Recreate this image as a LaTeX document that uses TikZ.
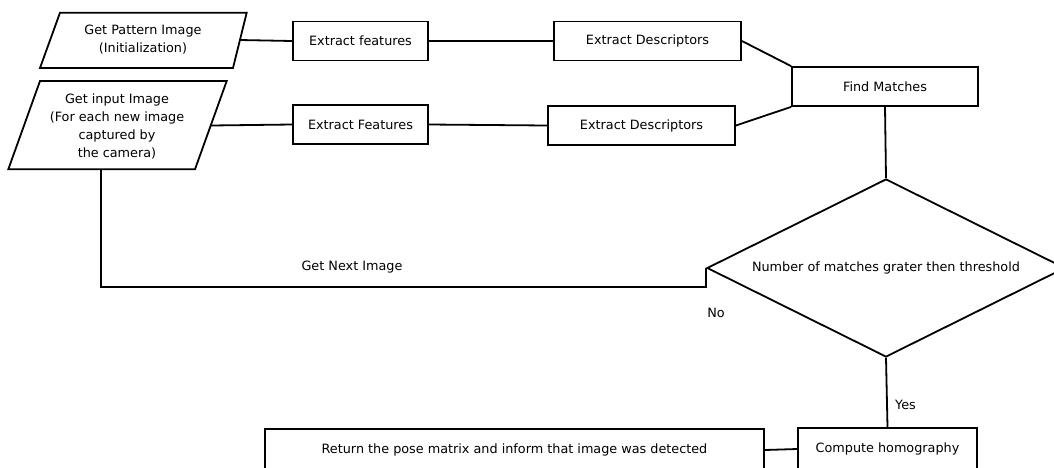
\documentclass[tikz,border=0pt]{standalone}
\usepackage{fontspec}
\setmainfont{DejaVu Sans}
\usetikzlibrary{shapes.geometric}
\begin{document}
\begin{tikzpicture}[x=1pt, y=-1pt, line width=1.8pt,
  txt/.style={font=\fontsize{12.8}{18}\selectfont, align=center, inner sep=0pt},
  box/.style={txt, draw, rectangle, minimum height=39pt},
  decision/.style={txt, draw, diamond, shape aspect=2, minimum width=358pt, minimum height=178pt},
  io/.style={line join=miter},
  link/.style={draw}]
\useasboundingbox (0,0) rectangle (1054,467);

% input parallelograms
\draw[io] (60,12.7) -- (246.7,12.7) -- (233,68) -- (40,68) -- cycle;
\node[txt] (pattern) at (143,40) {Get Pattern Image\\(Initialization)};
\coordinate (patternR) at (239.9,40);

\draw[io] (40,81) -- (226.7,81) -- (195,169.3) -- (8.3,169.3) -- cycle;
\node[txt] (input) at (117,126) {Get input Image\\(For each new image\\captured by\\the camera)};
\coordinate (inputR) at (210.7,125.5);
\coordinate (inputB) at (101,169.3);

% processing boxes
\node[box, minimum width=135pt] (feat1) at (360.5,41) {Extract features};
\node[box, minimum width=135pt] (feat2) at (360.5,124.5) {Extract Features};
\node[box, minimum width=187pt] (desc1) at (647.5,41) {Extract Descriptors};
\node[box, minimum width=187pt] (desc2) at (641.5,125.5) {Extract Descriptors};
\node[box, minimum width=186pt] (match) at (885,86.5) {Find Matches};

\node[decision] (thresh) at (886,268) {Number of matches grater then threshold};

\node[box, minimum width=179pt, minimum height=42pt] (homog) at (887.5,449) {Compute homography};
\node[box, minimum width=499pt, minimum height=42pt] (pose) at (514.5,450) {Return the pose matrix and inform that image was detected};

% connectors
\draw (patternR) -- (feat1.west);
\draw (inputR) -- (feat2.west);
\draw (feat1.east) -- (desc1.west);
\draw (feat2.east) -- (desc2.west);
\draw (desc1.east) -- (match.north west);
\draw (desc2.east) -- (match.south west);
\draw (match.south) -- (thresh.north);
\draw (thresh.west) -- ++(0,19) -| (inputB);
\draw (thresh.south) -- (homog.north);
\draw (homog.west) -- (pose.east);

% branch labels
\node[txt] (next) at (352,267) {Get Next Image};
\node[txt] (no) at (716,313) {No};
\node[txt] (yes) at (905.5,405) {Yes};
\end{tikzpicture}
\end{document}
